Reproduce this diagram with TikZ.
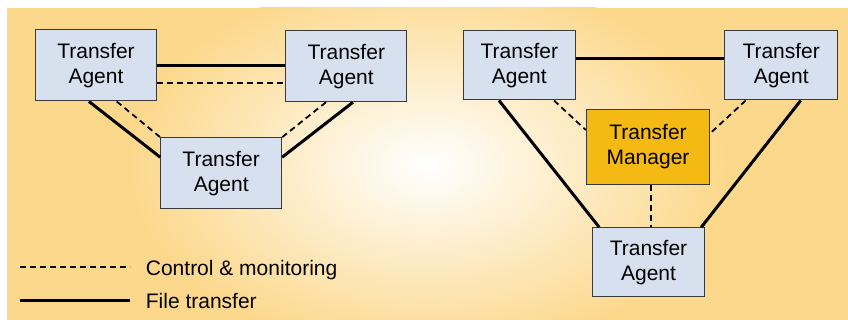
\documentclass[tikz,border=0pt]{standalone}
\usepackage{fontspec}
\setmainfont{Liberation Sans}
\usetikzlibrary{calc}
\definecolor{bgorange}{HTML}{FCD88C}
\definecolor{agentfill}{HTML}{D7E0EE}
\definecolor{mgrfill}{HTML}{F5B914}
\definecolor{boxline}{HTML}{3A3A3A}
\begin{document}
\begin{tikzpicture}[x=1pt,y=-1pt,
  agent/.style={draw=boxline, line width=1pt, fill=agentfill, align=center,
    font=\fontsize{21}{25}\selectfont, inner sep=0pt, minimum width=121pt, minimum height=71pt},
  agentb/.style={agent, minimum width=112.5pt, minimum height=69pt},
  manager/.style={agent, fill=mgrfill, minimum width=123.4pt, minimum height=75pt},
  ftline/.style={line width=3pt, black},
  cmline/.style={line width=1.8pt, black, dash pattern=on 6pt off 4pt},
  legtext/.style={font=\fontsize{21}{25}\selectfont, anchor=base west, inner sep=0pt}]
\useasboundingbox (0,0) rectangle (848,320);
\begin{scope}
  \clip (7,8) rectangle (848,320);
  \fill[bgorange] (7,8) rectangle (848,320);
  \shade[inner color=white, outer color=bgorange] (428,165) ellipse (300 and 190);
\end{scope}
% left diagram
\node[agent] (ta1) at (96,65.5) {Transfer\\Agent};
\node[agent] (ta2) at (346.3,66.2) {Transfer\\Agent};
\node[agent] (ta3) at (221.2,173.2) {Transfer\\Agent};
\draw[ftline] ($(ta1.east)+(0,0.5)$) -- ($(ta2.west)+(0,-0.2)$);
\draw[cmline] ($(ta1.east)+(0,17.8)$) -- ($(ta2.west)+(0,17.1)$);
\draw[ftline] ($(ta1.south)+(-7,0)$) -- ($(ta3.west)+(0,-16)$);
\draw[cmline] ($(ta1.south)+(20.7,0)$) -- (ta3.north west);
\draw[ftline] ($(ta2.south)+(6.7,0)$) -- ($(ta3.east)+(0,-16)$);
\draw[cmline] ($(ta2.south)+(-20.3,0)$) -- (ta3.north east);
% right diagram
\node[agentb] (ta4) at (519.3,65.5) {Transfer\\Agent};
\node[agentb] (ta5) at (781.2,65.5) {Transfer\\Agent};
\node[manager] (tm) at (648,146.8) {Transfer\\Manager};
\node[agentb] (ta6) at (648.5,262.2) {Transfer\\Agent};
\draw[ftline] ($(ta4.east)+(0,-6.5)$) -- ($(ta5.west)+(0,-6.5)$);
\draw[ftline] ($(ta4.south)+(-20.3,0)$) -- ($(ta6.north west)+(7.4,0)$);
\draw[ftline] ($(ta5.south)+(19.5,0)$) -- ($(ta6.north east)+(-4,0)$);
\draw[cmline] ($(ta4.south)+(34.7,0)$) -- ($(tm.west)+(0,-16.8)$);
\draw[cmline] ($(ta5.south)+(-35.5,0)$) -- ($(tm.east)+(0,-13.5)$);
\draw[cmline] ($(tm.south)+(2.7,0)$) -- ($(tm.south |- ta6.north)+(2.7,0)$);
% legend
\coordinate (l1a) at (20,266.7);
\coordinate (l1b) at (130,266.7);
\coordinate (l2a) at (20,300);
\coordinate (l2b) at (130,300);
\draw[cmline] (l1a) -- (l1b);
\draw[ftline] (l2a) -- (l2b);
\node[legtext] (leg1) at (145.7,275) {Control \& monitoring};
\node[legtext] (leg2) at (145.7,308) {File transfer};
\end{tikzpicture}
\end{document}
